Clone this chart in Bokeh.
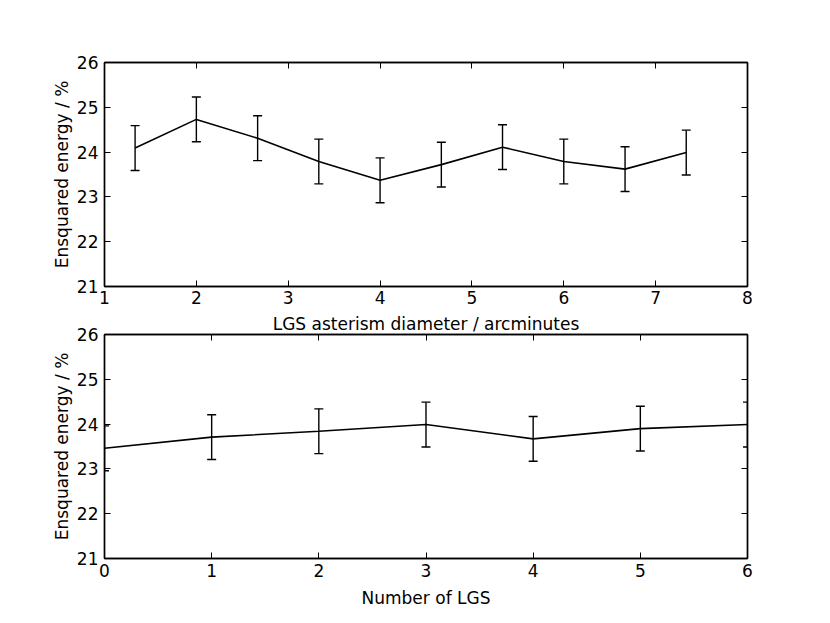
from bokeh.plotting import figure
from bokeh.layouts import column
from bokeh.models import LinearAxis, FixedTicker, Range1d
from bokeh.embed import file_html
from bokeh.resources import INLINE

# Top panel: LGS asterism diameter
diam_x = [1.333, 2.0, 2.667, 3.333, 4.0, 4.667, 5.333, 6.0, 6.667, 7.333]
diam_y = [24.09, 24.73, 24.31, 23.79, 23.37, 23.72, 24.11, 23.79, 23.62, 23.99]
diam_err = [0.5, 0.5, 0.5, 0.5, 0.5, 0.5, 0.5, 0.5, 0.5, 0.5]

# Bottom panel: number of LGS
nlgs_x = [0, 1, 2, 3, 4, 5, 6]
nlgs_y = [23.46, 23.71, 23.84, 23.99, 23.67, 23.90, 23.99]
nlgs_err = [0.5, 0.5, 0.5, 0.5, 0.5, 0.5, 0.5]

y_ticks = [21, 22, 23, 24, 25, 26]
top_x_ticks = [1, 2, 3, 4, 5, 6, 7, 8]
bot_x_ticks = [0, 1, 2, 3, 4, 5, 6]

FONT = "DejaVu Sans"
FS = "17px"
LW = 1.4


def style_axis(ax, ticks, show_labels=True):
    ax.ticker = FixedTicker(ticks=ticks)
    ax.major_tick_in = 6
    ax.major_tick_out = 0
    ax.minor_tick_line_color = None
    ax.major_tick_line_color = "black"
    ax.major_tick_line_width = 1
    ax.axis_line_color = "black"
    ax.axis_line_width = LW
    ax.major_label_text_font = FONT
    if show_labels:
        ax.major_label_text_font_size = FS
        ax.major_label_text_color = "black"
    else:
        ax.major_label_text_font_size = "1px"
        ax.major_label_text_color = None
        ax.major_label_standoff = 0
    ax.axis_label_text_font = FONT
    ax.axis_label_text_font_size = FS
    ax.axis_label_text_font_style = "normal"
    ax.axis_label_text_color = "black"


def make_panel(xs, ys, errs, xr, xticks, xlabel, height, bt, bb, s1, s2):
    p = figure(width=810, height=height, x_range=Range1d(*xr), y_range=Range1d(21, 26),
               output_backend="svg", toolbar_location=None,
               min_border_left=104, min_border_right=63,
               min_border_top=bt, min_border_bottom=bb)
    p.xgrid.visible = False
    p.ygrid.visible = False
    p.outline_line_color = "black"
    p.outline_line_width = LW
    p.background_fill_color = "white"

    style_axis(p.xaxis[0], xticks)
    style_axis(p.yaxis[0], y_ticks)
    p.xaxis[0].axis_label = xlabel
    p.yaxis[0].axis_label = "Ensquared energy / %"
    p.xaxis[0].major_label_standoff = s1
    p.xaxis[0].axis_label_standoff = s2
    p.yaxis[0].major_label_standoff = 6
    p.yaxis[0].axis_label_standoff = 2

    top_ax = LinearAxis()
    style_axis(top_ax, xticks, show_labels=False)
    p.add_layout(top_ax, "above")
    right_ax = LinearAxis()
    style_axis(right_ax, y_ticks, show_labels=False)
    p.add_layout(right_ax, "right")

    lo = [y - e for y, e in zip(ys, errs)]
    hi = [y + e for y, e in zip(ys, errs)]
    p.segment(x0=xs, y0=lo, x1=xs, y1=hi, line_color="black", line_width=LW)
    p.scatter(x=xs, y=lo, marker="dash", size=9, line_color="black", line_width=LW)
    p.scatter(x=xs, y=hi, marker="dash", size=9, line_color="black", line_width=LW)
    p.line(x=xs, y=ys, line_color="black", line_width=1.6)
    return p


p1 = make_panel(diam_x, diam_y, diam_err, (1, 8), top_x_ticks,
                "LGS asterism diameter / arcminutes", 336, 62, 47, 4, 7)
p1.border_fill_color = "white"

p2 = make_panel(nlgs_x, nlgs_y, nlgs_err, (0, 6), bot_x_ticks,
                "Number of LGS", 290, 14, 49, 5, 8)
p2.border_fill_color = None
p2.margin = (-16, 0, 0, 0)

layout = column(p1, p2, spacing=0)
open("out.html", "w").write(file_html(layout, INLINE))
